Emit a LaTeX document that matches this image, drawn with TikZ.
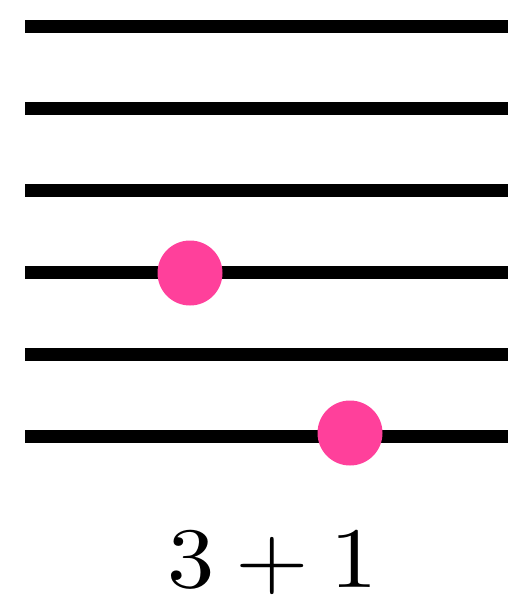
\documentclass[tikz,border=0pt]{standalone}
\definecolor{dotpink}{RGB}{255,64,155}
\tikzset{
  staffline/.style={line width=13pt, black},
  bead/.style={circle, fill=dotpink, inner sep=0pt, minimum size=65pt},
}
\begin{document}
\begin{tikzpicture}[x=1pt, y=-1pt]
\useasboundingbox (0,0) rectangle (508,606);
\foreach \i in {0,...,5} {
  \coordinate (l\i) at (25,26+82*\i);
  \coordinate (r\i) at (508,26+82*\i);
  \draw[staffline] (l\i) -- (r\i);
}
\node[bead] (d1) at (190,273) {};
\node[bead] (d2) at (350,433) {};
\node[anchor=base, inner sep=0pt, scale=8.6, xscale=1.1] (lbl) at (272.5,587) {$3+1$};
\end{tikzpicture}
\end{document}
